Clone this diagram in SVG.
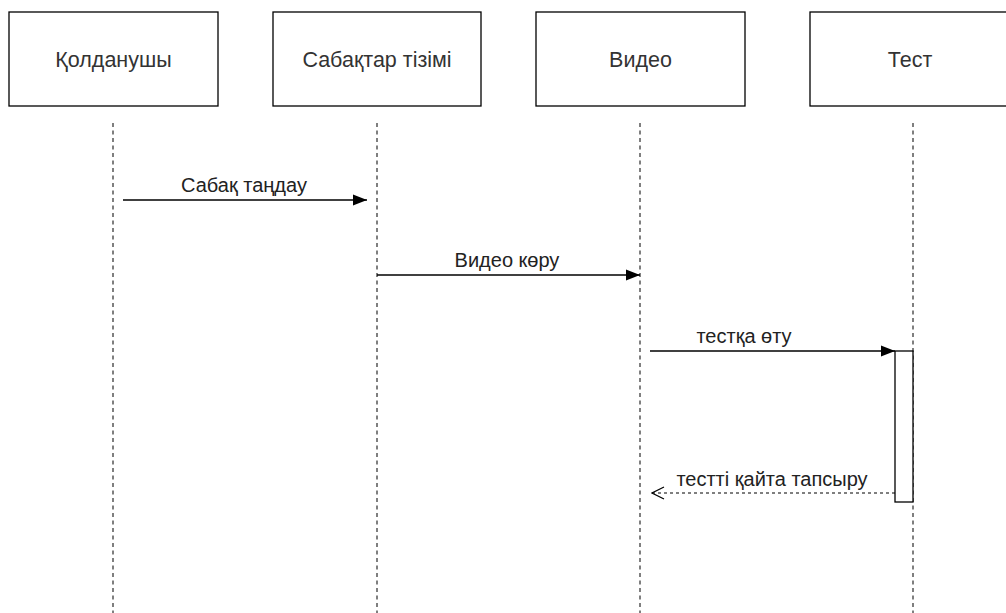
<svg xmlns="http://www.w3.org/2000/svg" width="1006" height="613" viewBox="0 0 1006 613">
<defs>
<style>
.box{fill:#fff;stroke:#000;stroke-width:1.3}
.life{stroke:#555;stroke-width:1.5;stroke-dasharray:4 3.5;fill:none}
.msg{stroke:#000;stroke-width:1.4;fill:none}
.ret{stroke:#000;stroke-width:1.1;fill:none;stroke-dasharray:3 3}
.t{font-family:"Liberation Sans",Arial,sans-serif;font-size:21.5px;fill:#333;text-anchor:middle}
.l{font-family:"Liberation Sans",Arial,sans-serif;font-size:20px;fill:#222;text-anchor:middle}
</style>
<marker id="fill" viewBox="0 0 14 12" refX="14" refY="6" markerWidth="14" markerHeight="12" markerUnits="userSpaceOnUse" orient="auto">
<path d="M0,0.5 L14,6 L0,11.5 Z" fill="#000"/>
</marker>
<marker id="open" viewBox="0 0 14 14" refX="13" refY="7" markerWidth="14" markerHeight="14" markerUnits="userSpaceOnUse" orient="auto">
<path d="M1,1 L13,7 L1,13" fill="none" stroke="#000" stroke-width="1.2"/>
</marker>
</defs>
<rect width="1006" height="613" fill="#fff"/>
<g id="lifelines">
<line class="life" x1="113" y1="123" x2="113" y2="613"/>
<line class="life" x1="377" y1="123" x2="377" y2="613"/>
<line class="life" x1="640" y1="123" x2="640" y2="613"/>
<line class="life" x1="913" y1="123" x2="913" y2="613"/>
</g>
<g id="n1"><rect class="box" x="9" y="12" width="209" height="94"/><text class="t" x="113.5" y="67">Қолданушы</text></g>
<g id="n2"><rect class="box" x="273" y="12" width="208" height="94"/><text class="t" x="377" y="67">Сабақтар тізімі</text></g>
<g id="n3"><rect class="box" x="536" y="12" width="209" height="94"/><text class="t" x="640.5" y="67">Видео</text></g>
<g id="n4"><rect class="box" x="810" y="12" width="209" height="94"/><text class="t" x="910" y="67">Тест</text></g>
<g id="activation"><rect class="box" x="895" y="351" width="18" height="151"/></g>
<g id="connectors">
<line class="msg" x1="123" y1="200" x2="367" y2="200" marker-end="url(#fill)"/>
<text class="l" x="244" y="192">Сабақ таңдау</text>
<line class="msg" x1="377" y1="275" x2="640" y2="275" marker-end="url(#fill)"/>
<text class="l" x="507" y="267">Видео көру</text>
<line class="msg" x1="650" y1="351" x2="895" y2="351" marker-end="url(#fill)"/>
<text class="l" x="744" y="343">тестқа өту</text>
<line class="ret" x1="895" y1="493" x2="652" y2="493" marker-end="url(#open)"/>
<text class="l" x="772" y="486">тестті қайта тапсыру</text>
</g>
</svg>
